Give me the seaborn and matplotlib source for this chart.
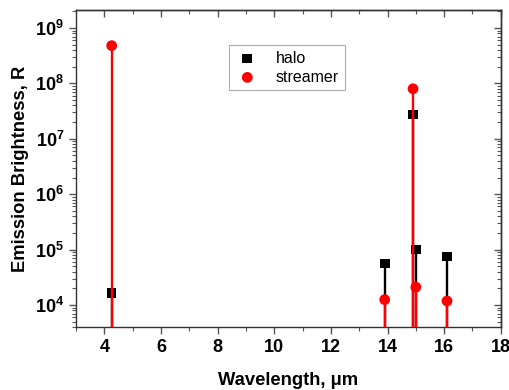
import matplotlib
matplotlib.use("Agg")
import matplotlib.pyplot as plt
import seaborn as sns
import pandas as pd
import numpy as np
from matplotlib.ticker import LogLocator, MultipleLocator, NullFormatter

# Data
halo_wl = [4.26, 13.9, 14.9, 15.0, 16.1]
halo_val = [1.65e4, 5.6e4, 2.75e7, 1.0e5, 7.5e4]
streamer_wl = [4.26, 13.9, 14.9, 15.0, 16.1]
streamer_val = [4.8e8, 1.25e4, 8.0e7, 2.1e4, 1.18e4]
series_names = ["halo", "streamer"]
colors = {"halo": "black", "streamer": "#ff0000"}

df = pd.DataFrame({
    "wl": halo_wl + streamer_wl,
    "val": halo_val + streamer_val,
    "series": ["halo"] * len(halo_wl) + ["streamer"] * len(streamer_wl),
})

sns.set_style("ticks")
plt.rcParams["font.family"] = ["Liberation Sans", "DejaVu Sans"]
plt.rcParams["text.color"] = "black"
plt.rcParams["axes.labelcolor"] = "black"
plt.rcParams["xtick.labelcolor"] = "black"
plt.rcParams["ytick.labelcolor"] = "black"

fig = plt.figure(figsize=(5.1, 3.9), dpi=100)
ax = fig.add_axes([0.149, 0.1615, 0.833, 0.8125])
ax.set_yscale("log")
ax.set_xlim(3, 18)
ax.set_ylim(4000, 2.1e9)

base = 1e3
# stems: halo black, then halo markers, then streamer stems & markers
ax.vlines(halo_wl, base, halo_val, color=colors["halo"], lw=1.7, zorder=2)
sns.scatterplot(data=df[df.series == "halo"], x="wl", y="val", ax=ax,
                marker="s", s=48, color=colors["halo"], edgecolor="none",
                label="halo", zorder=3)
ax.vlines(streamer_wl, base, streamer_val, color=colors["streamer"], lw=1.7, zorder=4)
sns.scatterplot(data=df[df.series == "streamer"], x="wl", y="val", ax=ax,
                marker="o", s=60, color=colors["streamer"], edgecolor="none",
                label="streamer", zorder=5)

# ticks
ax.xaxis.set_major_locator(MultipleLocator(2))
ax.xaxis.set_minor_locator(MultipleLocator(1))
ax.yaxis.set_major_locator(LogLocator(base=10, numticks=20))
ax.yaxis.set_minor_locator(LogLocator(base=10, subs=np.arange(2, 10), numticks=20))
ax.yaxis.set_minor_formatter(NullFormatter())
ax.tick_params(axis="both", which="major", direction="out", length=5, width=1,
               color="#555555", labelsize=13, labelcolor="black")
ax.tick_params(axis="both", which="minor", direction="out", length=3, width=0.8,
               color="#555555")
for lab in ax.get_xticklabels() + ax.get_yticklabels():
    lab.set_fontweight("bold")

# mirrored inward ticks on top/right
sx = ax.secondary_xaxis("top")
sx.xaxis.set_major_locator(MultipleLocator(2))
sx.xaxis.set_minor_locator(MultipleLocator(1))
sx.tick_params(which="major", direction="in", length=5, width=1, color="#555555", labeltop=False)
sx.tick_params(which="minor", direction="in", length=3, width=0.8, color="#555555")
sy = ax.secondary_yaxis("right")
sy.yaxis.set_major_locator(LogLocator(base=10, numticks=20))
sy.yaxis.set_minor_locator(LogLocator(base=10, subs=np.arange(2, 10), numticks=20))
sy.tick_params(which="major", direction="in", length=5, width=1, color="#555555", labelright=False)
sy.tick_params(which="minor", direction="in", length=3, width=0.8, color="#555555", labelright=False)
sy.yaxis.set_minor_formatter(NullFormatter())
for a in (sx, sy):
    for sp in a.spines.values():
        sp.set_color("#333333")
        sp.set_linewidth(1)

for sp in ax.spines.values():
    sp.set_visible(True)
    sp.set_color("#333333")
    sp.set_linewidth(1)

ax.set_xlabel("Wavelength, \u03bcm", fontsize=13.2, fontweight="bold", labelpad=12, color="black")
ax.set_ylabel("Emission Brightness, R", fontsize=13.2, fontweight="bold", labelpad=4, color="black")

leg = ax.legend(loc="upper left", bbox_to_anchor=(0.36, 0.89), borderaxespad=0,
                fontsize=11.5, frameon=True, fancybox=False, edgecolor="#999999",
                handletextpad=1.0, borderpad=0.35, labelspacing=0.25, handlelength=1.6)
leg.get_frame().set_linewidth(0.8)
for t in leg.get_texts():
    t.set_color("black")

fig.savefig("out.png", dpi=100)
